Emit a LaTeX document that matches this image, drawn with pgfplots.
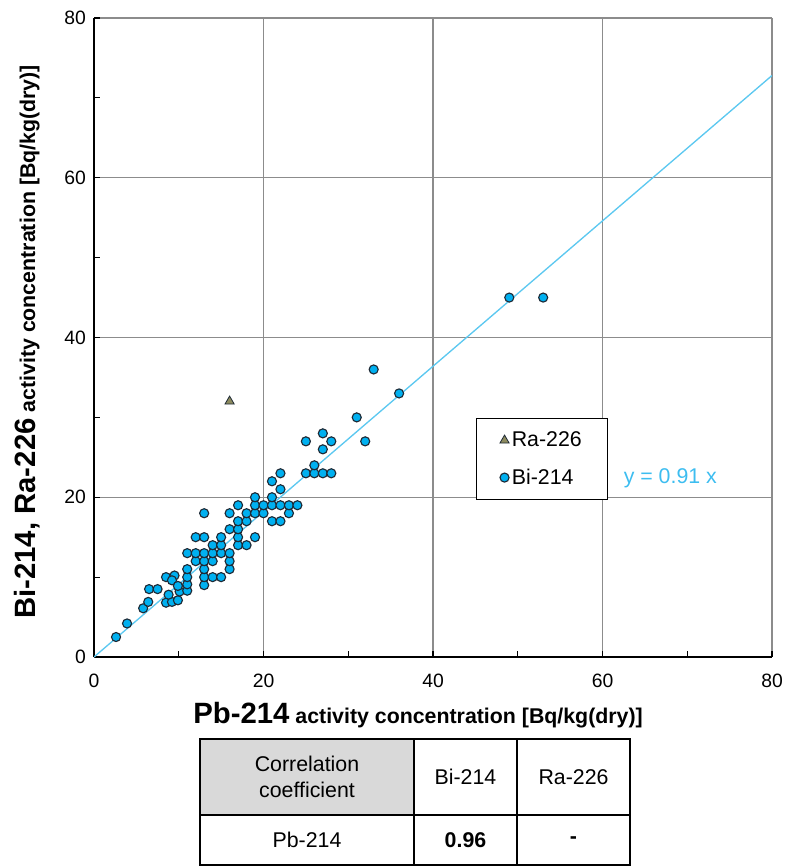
\documentclass[border=0pt]{standalone}
\usepackage{pgfplots}
\pgfplotsset{compat=1.18}
\usepackage{fontspec}
\setmainfont{Liberation Sans}
\definecolor{bifill}{HTML}{00B0F0}
\definecolor{bidraw}{HTML}{1E2A36}
\definecolor{rafill}{HTML}{8C8A5E}
\definecolor{trend}{HTML}{5CC8F0}
\definecolor{eqc}{HTML}{3DBDF0}
\definecolor{gridc}{HTML}{8C8C8C}
\definecolor{hdr}{HTML}{D9D9D9}
\begin{document}
\begin{tikzpicture}
\useasboundingbox (0,0) rectangle (591.75pt,-649.5pt);
\begin{axis}[
  at={(70.5pt,-492.75pt)}, anchor=south west,
  scale only axis, width=508.5pt, height=479.25pt,
  xmin=0, xmax=80, ymin=0, ymax=80,
  xtick={0,20,40,60,80}, ytick={0,20,40,60,80},
  minor xtick={10,30,50,70}, minor ytick={10,30,50,70},
  tick align=inside, major tick length=4.5pt, minor tick length=4.5pt,
  tick style={black, line width=0.8pt},
  grid=major, major grid style={gridc, line width=0.8pt},
  axis x line*=bottom, axis y line*=left,
  axis line style={black, line width=1pt, -},
  /pgf/number format/assume math mode=true,
  ticklabel style={font=\fontsize{14.5}{17}\selectfont},
  xticklabel style={yshift=-9pt},
  yticklabel style={xshift=-2.5pt},
  xlabel={\textbf{\fontsize{22}{26}\selectfont Pb-214}\textbf{\fontsize{16}{19}\selectfont\ activity concentration [Bq/kg(dry)]}},
  ylabel={\textbf{\fontsize{22}{26}\selectfont Bi-214, Ra-226}\textbf{\fontsize{16}{19}\selectfont\ activity concentration [Bq/kg(dry)]}},
  xlabel style={at={(axis description cs:0.478,-0.1033)}, anchor=base},
  ylabel style={at={(axis description cs:-0.087,0.493)}, anchor=base},
  legend style={at={(axis description cs:0.5634,0.374)}, anchor=north west,
    draw=black, line width=0.9pt, font=\fontsize{16}{19}\selectfont,
    row sep=11pt, inner xsep=17.5pt, inner ysep=8pt},
  legend cell align=left,
]
\addplot[only marks, mark=triangle*, mark size=4pt, mark options={fill=rafill, draw=bidraw, line width=0.6pt}]
  coordinates {(16,32)};
\addlegendentry{Ra-226}
\addplot[only marks, mark=*, mark size=3.4pt, mark options={fill=bifill, draw=bidraw, line width=0.85pt}]
  table {
x y
2.6 2.5
3.9 4.2
5.8 6.1
6.4 6.9
6.5 8.5
7.5 8.5
8.5 10.0
9.5 10.2
9.2 9.6
8.5 6.8
9.2 6.9
8.8 7.8
9.9 7.1
10.1 8.2
9.9 8.9
11 8.3
11 9.1
11 10
11 11
11 13
12 12
12 13
12 15
13 9
13 10
13 11
13 12
13 13
13 15
13 18
14 10
14 12
14 13
14 14
15 10
15 13
15 14
15 15
16 11
16 12
16 13
16 16
16 18
17 14
17 15
17 16
17 17
17 19
18 14
18 17
18 18
19 15
19 18
19 19
19 20
20 18
20 19
21 17
21 19
21 20
21 22
22 17
22 19
22 21
22 23
23 18
23 19
24 19
25 23
25 27
26 23
26 24
27 23
27 26
27 28
28 23
28 27
31 30
32 27
33 36
36 33
49 45
53 45
};
\addlegendentry{Bi-214}
\addplot[trend, line width=1pt, forget plot] coordinates {(0,0) (80,72.8)};
\node[text=eqc, font=\fontsize{16}{19}\selectfont] at (rel axis cs:0.8500,0.280) {y = 0.91 x};
\end{axis}
% correlation table
\fill[hdr] (200*0.75pt,-739*0.75pt) rectangle (414*0.75pt,-815*0.75pt);
\draw[black, line width=1.5pt] (200*0.75pt,-739*0.75pt) rectangle (630*0.75pt,-865*0.75pt);
\draw[black, line width=1.5pt] (200*0.75pt,-815*0.75pt) -- (630*0.75pt,-815*0.75pt);
\draw[black, line width=1.5pt] (414*0.75pt,-739*0.75pt) -- (414*0.75pt,-865*0.75pt);
\draw[black, line width=1.5pt] (517*0.75pt,-739*0.75pt) -- (517*0.75pt,-865*0.75pt);
\node[align=center, font=\fontsize{16}{19.5}\selectfont] at (307*0.75pt,-777*0.75pt) {Correlation\\coefficient};
\node[font=\fontsize{16}{19}\selectfont] at (465.5*0.75pt,-777*0.75pt) {Bi-214};
\node[font=\fontsize{16}{19}\selectfont] at (573.5*0.75pt,-777*0.75pt) {Ra-226};
\node[font=\fontsize{16}{19}\selectfont] at (307*0.75pt,-840*0.75pt) {Pb-214};
\node[font=\bfseries\fontsize{16}{19}\selectfont] at (465.5*0.75pt,-840*0.75pt) {0.96};
\node[font=\bfseries\fontsize{16}{19}\selectfont] at (573.5*0.75pt,-840*0.75pt) {-};
\end{tikzpicture}
\end{document}
